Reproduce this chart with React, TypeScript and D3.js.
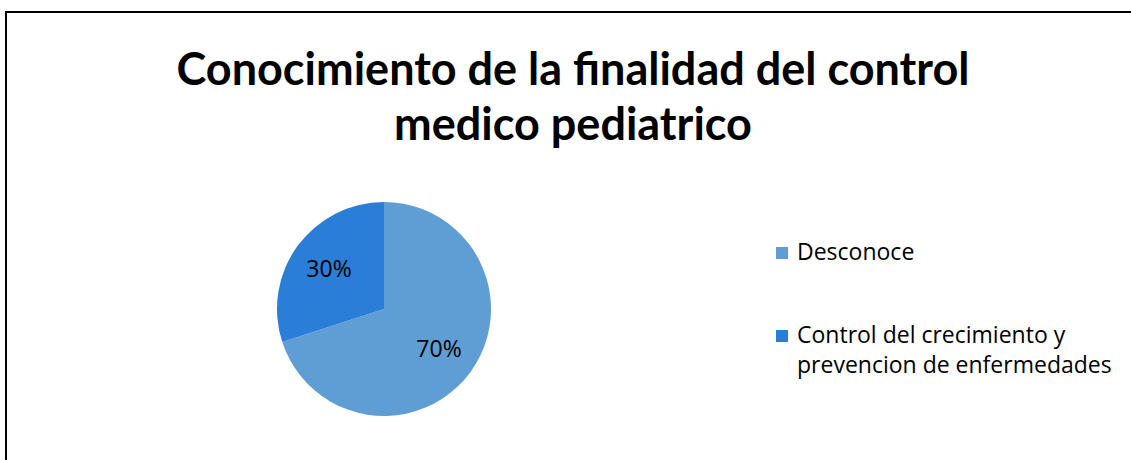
import React, { useEffect, useRef } from 'react';
import * as d3 from 'd3';

const categories = ['Desconoce', 'Control del crecimiento y prevencion de enfermedades'];
const legendLines = [['Desconoce'], ['Control del crecimiento y', 'prevencion de enfermedades']];
const values = [70, 30];
const colors = ['#5f9ed4', '#2b7ed7'];
const titleLines = ['Conocimiento de la finalidad del control', 'medico pediatrico'];

const App = () => {
  const svgRef = useRef<SVGSVGElement>(null);

  useEffect(() => {
    const svg = d3.select(svgRef.current);
    svg.selectAll('*').remove();

    svg.append('rect')
      .attr('x', 6)
      .attr('y', 12)
      .attr('width', 1140)
      .attr('height', 470)
      .attr('fill', '#fff')
      .attr('stroke', '#000')
      .attr('stroke-width', 2);

    const title = svg.append('text')
      .attr('text-anchor', 'middle')
      .attr('font-family', 'Lato, sans-serif')
      .attr('font-weight', 'bold')
      .attr('font-size', 45)
      .attr('fill', '#000');
    titleLines.forEach((t, i) => {
      title.append('tspan')
        .attr('x', 573)
        .attr('y', 85 + i * 55)
        .text(t);
    });

    const cx = 384, cy = 309, r = 107;
    const pie = d3.pie<number>().sort(null).value(d => d);
    const arcs = pie(values);
    const arc = d3.arc<d3.PieArcDatum<number>>().innerRadius(0).outerRadius(r);
    const labelArc = d3.arc<d3.PieArcDatum<number>>().innerRadius(68).outerRadius(68);
    const total = d3.sum(values);

    const g = svg.append('g').attr('transform', `translate(${cx},${cy})`);
    g.selectAll('path')
      .data(arcs)
      .enter()
      .append('path')
      .attr('d', arc)
      .attr('fill', (d, i) => colors[i]);

    g.selectAll('text.lbl')
      .data(arcs)
      .enter()
      .append('text')
      .attr('class', 'lbl')
      .attr('transform', d => `translate(${labelArc.centroid(d)})`)
      .attr('text-anchor', 'middle')
      .attr('dy', '0.35em')
      .attr('font-family', '"Open Sans", sans-serif')
      .attr('font-size', 23)
      .attr('fill', '#000')
      .text(d => `${Math.round((d.value / total) * 100)}%`);

    const legend = svg.append('g');
    const legendY = d3.scalePoint<string>().domain(categories).range([253, 336]);
    categories.forEach((c, i) => {
      const y = legendY(c) as number;
      legend.append('rect')
        .attr('x', 776)
        .attr('y', y - 6)
        .attr('width', 12)
        .attr('height', 12)
        .attr('fill', colors[i]);
      const t = legend.append('text')
        .attr('font-family', '"Open Sans", sans-serif')
        .attr('font-size', 23)
        .attr('fill', '#000');
      legendLines[i].forEach((line, j) => {
        t.append('tspan')
          .attr('x', 797)
          .attr('y', y + 7 + j * 30)
          .text(line);
      });
    });
  }, []);

  return (
    <svg
      ref={svgRef}
      width={1131}
      height={460}
      style={{ position: 'absolute', left: 0, top: 0, background: '#fff' }}
    />
  );
};

export default App;
